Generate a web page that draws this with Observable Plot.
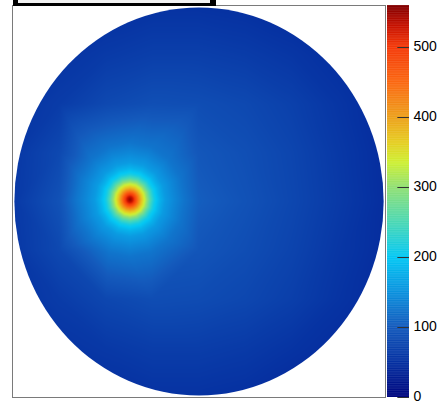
<!DOCTYPE html>
<html><head><meta charset="utf-8">
<script src="https://cdn.jsdelivr.net/npm/d3@7"></script>
<script src="https://cdn.jsdelivr.net/npm/@observablehq/plot@0.6"></script>
<style>
body{margin:0;background:#fff;}
#wrap{position:relative;width:443px;height:403px;overflow:hidden;font-family:"Liberation Sans",Arial,sans-serif;}
#wrap svg{position:absolute;top:0;}
#title{position:absolute;left:13px;top:0;width:192px;height:3px;background:#f2f2f2;border:solid #000;border-width:0 6px 3px 5px;z-index:5;}
</style></head><body><div id="wrap"></div>
<script>
// ---- data ----
// background field, sampled on a coarse grid (x columns, y rows from top to bottom)
const gridX = [-100, -75, -50, -25, 0, 25, 50, 75, 100];
const gridY = [100, 75, 50, 25, 0, -25, -50, -75, -100];
const gridValues = [
  [40, 42, 46, 50, 50, 47, 42, 38, 35],
  [46, 52, 60, 66, 66, 62, 55, 46, 38],
  [52, 62, 78, 86, 84, 78, 68, 54, 42],
  [56, 78, 100, 108, 96, 86, 74, 58, 44],
  [58, 90, 125, 125, 104, 90, 76, 60, 45],
  [56, 78, 100, 105, 94, 84, 72, 56, 44],
  [52, 62, 76, 84, 82, 76, 66, 52, 42],
  [46, 52, 58, 64, 64, 60, 52, 44, 38],
  [40, 42, 46, 50, 50, 47, 40, 36, 35]
];
// hot spot: centre and radial profile
const spotCenter = {x: -37, y: 1};
const spotRadii  = [0, 1.5, 3, 4.5, 6, 8, 9.5, 11, 13, 16, 19, 24, 29];
const spotValues = [555, 530, 485, 430, 380, 330, 290, 250, 212, 180, 158, 140, 124];
const spotAngleCount = 16;
const diskRadius = 99;
// colour bar
const zMax = 560;
const colorTicks = [0, 100, 200, 300, 400, 500];
const paletteStops  = [0, 50, 100, 150, 200, 250, 300, 335, 365, 400, 450, 500, 530, 560];
const paletteColors = ["#00067e", "#0632a2", "#145abc", "#0c92de", "#04c8f4", "#4cd8b4", "#92e074",
                       "#cef034", "#e6cc22", "#eda01c", "#fb6812", "#f43a0a", "#c81200", "#800000"];

// ---- build sample table ----
const samples = [];
gridY.forEach((y, i) => gridX.forEach((x, j) => {
  if (Math.hypot(x - spotCenter.x, y - spotCenter.y) > spotRadii[spotRadii.length - 1] + 0.5)
    samples.push({x, y, v: gridValues[i][j]});
}));
spotRadii.forEach((r, k) => {
  const n = r === 0 ? 1 : spotAngleCount;
  for (let a = 0; a < n; ++a) {
    const t = 2 * Math.PI * a / n;
    samples.push({x: spotCenter.x + r * Math.cos(t), y: spotCenter.y + r * Math.sin(t), v: spotValues[k]});
  }
});

const colorOpts = {type: "linear", domain: paletteStops, range: paletteColors, interpolate: "rgb", clamp: true};

const main = Plot.plot({
  width: 443, height: 403,
  marginLeft: 12, marginRight: 58, marginTop: 5, marginBottom: 6,
  x: {domain: [-100, 100], axis: null},
  y: {domain: [-100, 100], axis: null},
  color: colorOpts,
  marks: [
    Plot.raster(samples, {x: "x", y: "y", fill: "v", interpolate: "barycentric",
      x1: -100, x2: 100, y1: -100, y2: 100}),
    Plot.frame({stroke: "#7a7a7a"})
  ]
});

// clip the raster to the detector disk
const sx = main.scale("x"), sy = main.scale("y");
const ns = "http://www.w3.org/2000/svg";
const defs = document.createElementNS(ns, "defs");
const cp = document.createElementNS(ns, "clipPath");
cp.setAttribute("id", "disk");
const el = document.createElementNS(ns, "ellipse");
el.setAttribute("cx", sx.apply(0));
el.setAttribute("cy", sy.apply(0));
el.setAttribute("rx", sx.apply(diskRadius) - sx.apply(0));
el.setAttribute("ry", sy.apply(0) - sy.apply(diskRadius));
cp.appendChild(el); defs.appendChild(cp);
main.insertBefore(defs, main.firstChild);
const rg = main.querySelector('g[aria-label="raster"]');
if (rg) rg.setAttribute("clip-path", "url(#disk)");
main.style.left = "0px";

const barSteps = d3.range(0, zMax, 1);
const bar = Plot.plot({
  width: 60, height: 403,
  marginLeft: 4, marginRight: 34, marginTop: 5, marginBottom: 6,
  x: {domain: [0, 1], axis: null},
  y: {domain: [0, zMax], axis: null},
  color: colorOpts,
  style: {fontFamily: '"Liberation Sans", Arial, sans-serif', background: "transparent"},
  marks: [
    Plot.rect(barSteps, {x1: 0, x2: 1, y1: d => d, y2: d => Math.min(zMax, d + 1.6), fill: d => d + 0.5}),
    Plot.ruleY(colorTicks, {x1: 0.47, x2: 1, stroke: "#333", strokeWidth: 1}),
    Plot.axisY(colorTicks, {anchor: "right", tickSize: 0, tickPadding: 4, fontSize: 14, fill: "#000", dy: -1, tickFormat: d => String(d)})
  ]
});
bar.style.left = "383px";

const wrap = document.getElementById("wrap");
wrap.appendChild(main);
wrap.appendChild(bar);
const title = document.createElement("div");
title.id = "title";
wrap.appendChild(title);
</script>
</body></html>
